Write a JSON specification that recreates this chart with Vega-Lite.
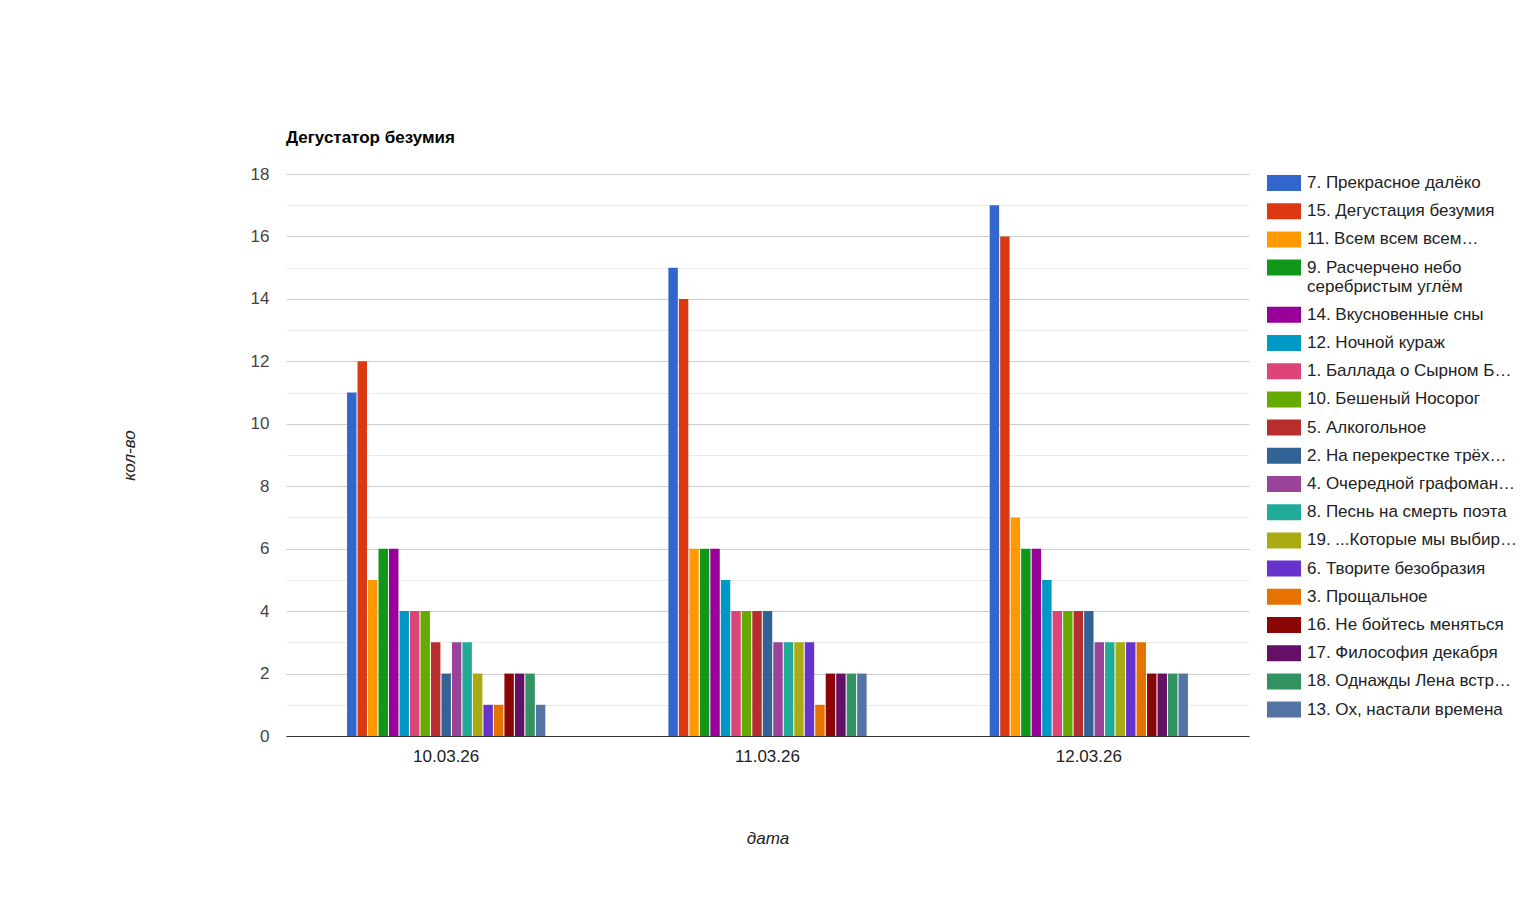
{
  "$schema": "https://vega.github.io/schema/vega-lite/v6.json",
  "autosize": {"type": "none"},
  "padding": {"left": 286, "top": 174, "right": 286, "bottom": 175},
  "width": 963,
  "height": 562,
  "background": "white",
  "config": {
    "font": "Liberation Sans",
    "view": {"stroke": null},
    "axis": {"labelFont": "Liberation Sans", "titleFont": "Liberation Sans"}
  },
  "title": {
    "text": "Дегустатор безумия",
    "anchor": "start",
    "frame": "group",
    "font": "Liberation Sans",
    "fontSize": 17,
    "fontWeight": "bold",
    "color": "#000000",
    "offset": 18
  },
  "data": {
    "values": [
      {"date": "10.03.26", "series": "7. Прекрасное далёко", "value": 11},
      {"date": "10.03.26", "series": "15. Дегустация безумия", "value": 12},
      {"date": "10.03.26", "series": "11. Всем всем всем…", "value": 5},
      {"date": "10.03.26", "series": "9. Расчерчено небо серебристым углём", "value": 6},
      {"date": "10.03.26", "series": "14. Вкусновенные сны", "value": 6},
      {"date": "10.03.26", "series": "12. Ночной кураж", "value": 4},
      {"date": "10.03.26", "series": "1. Баллада о Сырном Б…", "value": 4},
      {"date": "10.03.26", "series": "10. Бешеный Носорог", "value": 4},
      {"date": "10.03.26", "series": "5. Алкогольное", "value": 3},
      {"date": "10.03.26", "series": "2. На перекрестке трёх…", "value": 2},
      {"date": "10.03.26", "series": "4. Очередной графоман…", "value": 3},
      {"date": "10.03.26", "series": "8. Песнь на смерть поэта", "value": 3},
      {"date": "10.03.26", "series": "19. ...Которые мы выбир…", "value": 2},
      {"date": "10.03.26", "series": "6. Творите безобразия", "value": 1},
      {"date": "10.03.26", "series": "3. Прощальное", "value": 1},
      {"date": "10.03.26", "series": "16. Не бойтесь меняться", "value": 2},
      {"date": "10.03.26", "series": "17. Философия декабря", "value": 2},
      {"date": "10.03.26", "series": "18. Однажды Лена встр…", "value": 2},
      {"date": "10.03.26", "series": "13. Ох, настали времена", "value": 1},
      {"date": "11.03.26", "series": "7. Прекрасное далёко", "value": 15},
      {"date": "11.03.26", "series": "15. Дегустация безумия", "value": 14},
      {"date": "11.03.26", "series": "11. Всем всем всем…", "value": 6},
      {"date": "11.03.26", "series": "9. Расчерчено небо серебристым углём", "value": 6},
      {"date": "11.03.26", "series": "14. Вкусновенные сны", "value": 6},
      {"date": "11.03.26", "series": "12. Ночной кураж", "value": 5},
      {"date": "11.03.26", "series": "1. Баллада о Сырном Б…", "value": 4},
      {"date": "11.03.26", "series": "10. Бешеный Носорог", "value": 4},
      {"date": "11.03.26", "series": "5. Алкогольное", "value": 4},
      {"date": "11.03.26", "series": "2. На перекрестке трёх…", "value": 4},
      {"date": "11.03.26", "series": "4. Очередной графоман…", "value": 3},
      {"date": "11.03.26", "series": "8. Песнь на смерть поэта", "value": 3},
      {"date": "11.03.26", "series": "19. ...Которые мы выбир…", "value": 3},
      {"date": "11.03.26", "series": "6. Творите безобразия", "value": 3},
      {"date": "11.03.26", "series": "3. Прощальное", "value": 1},
      {"date": "11.03.26", "series": "16. Не бойтесь меняться", "value": 2},
      {"date": "11.03.26", "series": "17. Философия декабря", "value": 2},
      {"date": "11.03.26", "series": "18. Однажды Лена встр…", "value": 2},
      {"date": "11.03.26", "series": "13. Ох, настали времена", "value": 2},
      {"date": "12.03.26", "series": "7. Прекрасное далёко", "value": 17},
      {"date": "12.03.26", "series": "15. Дегустация безумия", "value": 16},
      {"date": "12.03.26", "series": "11. Всем всем всем…", "value": 7},
      {"date": "12.03.26", "series": "9. Расчерчено небо серебристым углём", "value": 6},
      {"date": "12.03.26", "series": "14. Вкусновенные сны", "value": 6},
      {"date": "12.03.26", "series": "12. Ночной кураж", "value": 5},
      {"date": "12.03.26", "series": "1. Баллада о Сырном Б…", "value": 4},
      {"date": "12.03.26", "series": "10. Бешеный Носорог", "value": 4},
      {"date": "12.03.26", "series": "5. Алкогольное", "value": 4},
      {"date": "12.03.26", "series": "2. На перекрестке трёх…", "value": 4},
      {"date": "12.03.26", "series": "4. Очередной графоман…", "value": 3},
      {"date": "12.03.26", "series": "8. Песнь на смерть поэта", "value": 3},
      {"date": "12.03.26", "series": "19. ...Которые мы выбир…", "value": 3},
      {"date": "12.03.26", "series": "6. Творите безобразия", "value": 3},
      {"date": "12.03.26", "series": "3. Прощальное", "value": 3},
      {"date": "12.03.26", "series": "16. Не бойтесь меняться", "value": 2},
      {"date": "12.03.26", "series": "17. Философия декабря", "value": 2},
      {"date": "12.03.26", "series": "18. Однажды Лена встр…", "value": 2},
      {"date": "12.03.26", "series": "13. Ох, настали времена", "value": 2}
    ]
  },
  "mark": {"type": "bar"},
  "encoding": {
    "x": {
      "field": "date",
      "type": "nominal",
      "title": "дата",
      "scale": {"paddingInner": 0.383, "paddingOuter": 0.19},
      "axis": {
        "labelAngle": 0,
        "labelFontSize": 17,
        "labelColor": "#222222",
        "labelPadding": 12,
        "ticks": false,
        "domainColor": "#333333",
        "titleFontSize": 17,
        "titleFontStyle": "italic",
        "titleFontWeight": "normal",
        "titleColor": "#222222",
        "titlePadding": 66
      }
    },
    "xOffset": {
      "field": "series",
      "type": "nominal",
      "sort": null,
      "scale": {"paddingInner": 0.1}
    },
    "y": {
      "field": "value",
      "type": "quantitative",
      "title": "кол-во",
      "scale": {"domain": [0, 18], "nice": false},
      "axis": {
        "values": [0, 1, 2, 3, 4, 5, 6, 7, 8, 9, 10, 11, 12, 13, 14, 15, 16, 17, 18],
        "labelExpr": "datum.value % 2 ? '' : datum.label",
        "gridColor": {"condition": {"test": "datum.value % 2", "value": "#ebebeb"}, "value": "#cccccc"},
        "labelFontSize": 17,
        "labelColor": "#444444",
        "labelPadding": 17,
        "ticks": false,
        "domain": false,
        "titleFontSize": 17,
        "titleFontStyle": "italic",
        "titleFontWeight": "normal",
        "titleColor": "#222222",
        "titlePadding": 112
      }
    },
    "color": {
      "field": "series",
      "type": "nominal",
      "sort": null,
      "scale": {
        "range": ["#3366cc", "#dc3912", "#ff9900", "#109618", "#990099", "#0099c6", "#dd4477", "#66aa00", "#b82e2e", "#316395", "#994499", "#22aa99", "#aaaa11", "#6633cc", "#e67300", "#8b0707", "#651067", "#329262", "#5574a6"]
      },
      "legend": {
        "title": null,
        "orient": "none",
        "legendX": 981,
        "legendY": -8,
        "symbolType": "M-1,-0.47H1V0.47H-1Z",
        "symbolSize": 1156,
        "symbolStrokeWidth": 0,
        "symbolOpacity": 1,
        "labelFontSize": 17,
        "labelColor": "#222222",
        "labelFont": "Liberation Sans",
        "labelOffset": 6,
        "labelLimit": 300,
        "rowPadding": 3.2,
        "labelExpr": "datum.label == '9. Расчерчено небо серебристым углём' ? ['9. Расчерчено небо', 'серебристым углём'] : datum.label"
      }
    }
  }
}
